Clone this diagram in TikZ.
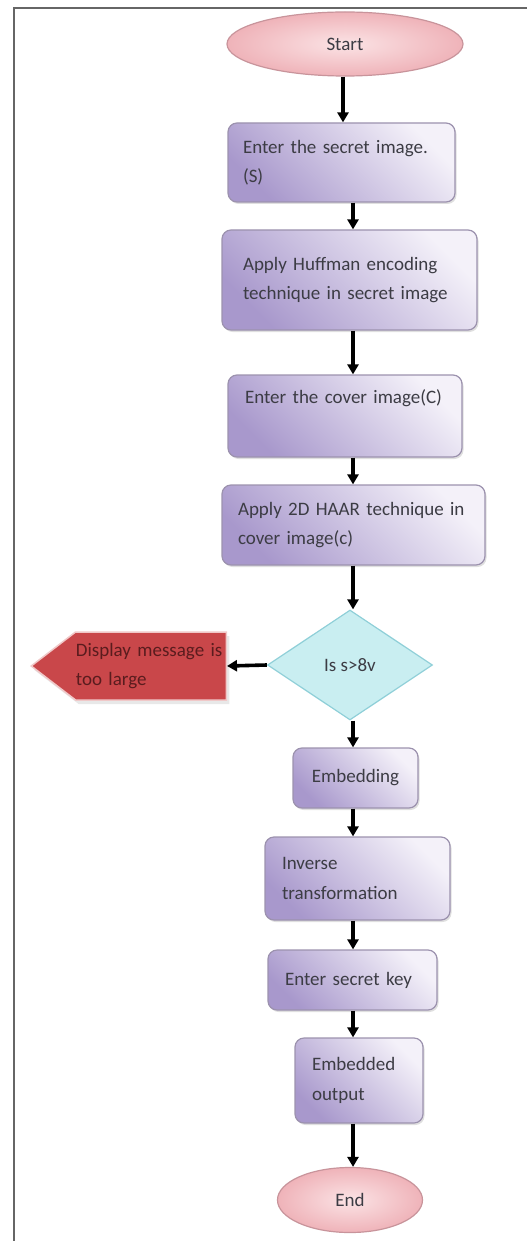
\documentclass[tikz,border=0pt]{standalone}
\usepackage{fontspec}
\setmainfont{Carlito}
\usetikzlibrary{shapes.geometric,shapes.symbols,arrows.meta,shadows}
\definecolor{txt}{HTML}{3C3C44}
\definecolor{boxdark}{HTML}{A898CC}
\definecolor{boxlight}{HTML}{F4F1F9}
\definecolor{boxline}{HTML}{9C92AE}
\definecolor{pinkin}{HTML}{FBE3E5}
\definecolor{pinkout}{HTML}{EFB3B9}
\definecolor{pinkline}{HTML}{C8949B}
\definecolor{cyanfill}{HTML}{C9EEF1}
\definecolor{cyanline}{HTML}{8FCFD8}
\definecolor{redfill}{HTML}{C9474A}
\definecolor{redline}{HTML}{F0C8C8}
\definecolor{redtxt}{HTML}{5A1C1E}
\definecolor{framegray}{HTML}{666666}
\begin{document}
\begin{tikzpicture}[x=1pt,y=-1pt,
  every node/.style={font=\fontsize{19}{29.5}\selectfont, text=txt},
  proc/.style={rectangle, rounded corners=9pt, draw=boxline, line width=1.2pt,
    left color=boxdark, right color=boxlight, shading angle=135,
    align=left, inner sep=0pt,
    drop shadow={opacity=0.25, shadow xshift=1.5pt, shadow yshift=-2pt}},
  term/.style={ellipse, draw=pinkline, line width=1.2pt, inner color=pinkin,
    outer color=pinkout, inner sep=0pt},
  dec/.style={diamond, draw=cyanline, line width=1.2pt, fill=cyanfill, inner sep=0pt},
  msg/.style={signal, signal to=west, signal pointer angle=75, draw=redline,
    line width=1.5pt, fill=redfill, inner sep=0pt, align=left, text=redtxt,
    drop shadow={opacity=0.3, fill=gray!60, shadow xshift=3pt, shadow yshift=-4pt}},
  arr/.style={line width=3.6pt, -{Triangle[length=10pt,width=11pt]}},
  framestyle/.style={draw=framegray, line width=2pt}
]
\useasboundingbox (0,0) rectangle (527,1241);
\draw[framestyle] (13,8) -- (527,8);
\draw[framestyle] (14,8) -- (14,1241);

\coordinate (c1) at (343,0);
\coordinate (c2) at (353,0);

\node[term, minimum width=236pt, minimum height=64pt] (start) at (345,44) {Start};
\node[proc, minimum width=227pt, minimum height=79pt, text width=197pt] (b1) at (341.5,162.5)
  {Enter the secret image.\\(S)};
\node[proc, minimum width=255pt, minimum height=100pt, text width=213pt] (b2) at (349.5,280)
  {Apply Huffman encoding\\technique in secret image\\[6pt]};
\node[proc, minimum width=234pt, minimum height=82pt, text width=200pt] (b3) at (345,416)
  {Enter the cover image(C)\\\strut};
\node[proc, minimum width=263pt, minimum height=80pt, text width=231pt] (b4) at (353.5,525)
  {Apply 2D HAAR technique in\\cover image(c)};
\node[dec, minimum width=165pt, minimum height=110pt] (d) at (350,665) {Is s>8v};
\node[msg, minimum width=195pt, minimum height=68pt, text width=150pt, anchor=east] (m) at (227,666)
  {Display message is\\too large};
\node[proc, minimum width=125pt, minimum height=60pt, align=center] (emb) at (355.5,778) {Embedding};
\node[proc, minimum width=185pt, minimum height=83pt, text width=151pt] (inv) at (357.5,878.5)
  {Inverse\\transformation};
\node[proc, minimum width=169pt, minimum height=60pt, text width=135pt] (key) at (352.5,980)
  {Enter secret key};
\node[proc, minimum width=128pt, minimum height=85pt, text width=94pt] (out) at (359,1080.5)
  {Embedded\\output};
\node[term, minimum width=145pt, minimum height=65pt] (end) at (350,1200) {End};

\draw[arr] (start.south -| c1) -- (b1.north -| c1);
\draw[arr] (b1.south -| c2) -- (b2.north -| c2);
\draw[arr] (b2.south -| c2) -- (b3.north -| c2);
\draw[arr] (b3.south -| c2) -- (b4.north -| c2);
\draw[arr] (b4.south -| c2) -- (d.north -| c2);
\draw[arr] (d.west) -- (m.east);
\draw[arr] (d.south -| c2) -- (emb.north -| c2);
\draw[arr] (emb.south -| c2) -- (inv.north -| c2);
\draw[arr] (inv.south -| c2) -- (key.north -| c2);
\draw[arr] (key.south -| c2) -- (out.north -| c2);
\draw[arr] (out.south -| c2) -- (end.north -| c2);
\end{tikzpicture}
\end{document}
